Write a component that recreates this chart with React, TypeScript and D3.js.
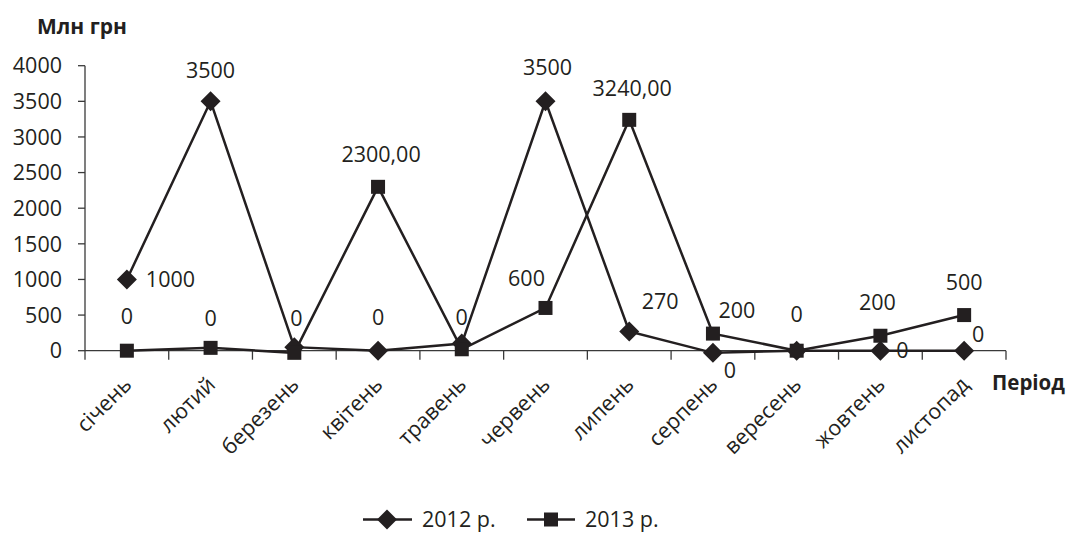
import React from "react";
import * as d3 from "d3";

const categories = ["січень", "лютий", "березень", "квітень", "травень", "червень", "липень", "серпень", "вересень", "жовтень", "листопад"];
const series2012 = [1000, 3500, 50, 0, 100, 3500, 270, -30, 0, 0, 0];
const series2013 = [0, 40, -30, 2300, 20, 600, 3240, 240, 0, 210, 500];
const labels2012 = ["1000", "3500", "0", "0", "0", "3500", "270", "0", "", "0", "0"];
const labels2013 = ["0", "0", "", "2300,00", "", "600", "3240,00", "200", "0", "200", "500"];
const yTicks = [0, 500, 1000, 1500, 2000, 2500, 3000, 3500, 4000];
const seriesNames = ["2012 р.", "2013 р."];

// label placement offsets (layout only)
const off2012: [number, number, string][] = [
  [19, 0, "start"], [0, -31, "middle"], [2, -29, "middle"], [0, -33, "middle"], [0, -26, "middle"],
  [2, -34, "middle"], [31, -30, "middle"], [17, 17, "middle"], [0, 0, "middle"], [22, 0, "middle"], [14, -16, "middle"],
];
const off2013: [number, number, string][] = [
  [0, -34, "middle"], [0, -30, "middle"], [0, 0, "middle"], [3, -33, "middle"], [0, 0, "middle"],
  [-19, -30, "middle"], [3, -32, "middle"], [24, -23, "middle"], [0, -36, "middle"], [-3, -33, "middle"], [0, -33, "middle"],
];

const W = 1071, H = 534;
const X0 = 85, X1 = 1006, Y0 = 350.7, Y1 = 65.7;
const FONT = "'Open Sans', sans-serif";
const INK = "#231f20";
const FS = 21.5;
const LEG_Y = 519.5;

export default function App() {
  const x = d3.scaleBand<string>().domain(categories).range([X0, X1]).padding(0);
  const y = d3.scaleLinear().domain([0, 4000]).range([Y0, Y1]);
  const cx = (c: string) => (x(c) as number) + x.bandwidth() / 2;
  const line = d3.line<number>().x((_, i) => cx(categories[i])).y((v) => y(v));
  const diamond = (r: number) => `M0,${-r}L${r},0L0,${r}L${-r},0Z`;
  const boundaries = [...categories.map((c) => x(c) as number), X1];

  return (
    <div style={{ position: "absolute", left: 0, top: 0 }}>
      <svg width={W} height={H} style={{ display: "block", fontFamily: FONT }}>
        <rect width={W} height={H} fill="#fff" />
        {/* axis titles */}
        <text x={37} y={34} fontSize={21} fontWeight={700} fill={INK}>Млн грн</text>
        <text x={992} y={390} fontSize={20.5} fontWeight={700} fill={INK}>Період</text>

        {/* y axis */}
        <line x1={X0} x2={X0} y1={Y1} y2={Y0} stroke="#3a3a3a" strokeWidth={1.3} />
        {yTicks.map((t) => (
          <g key={t}>
            <line x1={X0 - 7} x2={X0} y1={y(t)} y2={y(t)} stroke="#3a3a3a" strokeWidth={1.3} />
            <text x={62} y={y(t)} dy="0.36em" textAnchor="end" fontSize={FS} fill={INK}>{t}</text>
          </g>
        ))}

        {/* x axis */}
        <line x1={X0} x2={X1} y1={Y0} y2={Y0} stroke="#3a3a3a" strokeWidth={1.3} />
        {boundaries.map((b, i) => (
          <line key={i} x1={b} x2={b} y1={Y0} y2={Y0 + 9} stroke="#3a3a3a" strokeWidth={1.3} />
        ))}
        {categories.map((c) => (
          <text key={c} transform={`translate(${cx(c) + 6},${386}) rotate(-45)`} textAnchor="end" fontSize={FS} fill={INK}>{c}</text>
        ))}

        {/* series lines */}
        <path d={line(series2012) as string} fill="none" stroke={INK} strokeWidth={2.5} strokeLinejoin="miter" />
        {series2012.map((v, i) => (
          <path key={i} d={diamond(10)} transform={`translate(${cx(categories[i])},${y(v)})`} fill={INK} />
        ))}
        <path d={line(series2013) as string} fill="none" stroke={INK} strokeWidth={2.5} />
        {series2013.map((v, i) => (
          <rect key={i} x={cx(categories[i]) - 7} y={y(v) - 7} width={14} height={14} fill={INK} />
        ))}

        {/* data labels */}
        {series2012.map((v, i) => labels2012[i] ? (
          <text key={i} x={cx(categories[i]) + off2012[i][0]} y={y(v) + off2012[i][1]} dy="0.36em" textAnchor={off2012[i][2]} fontSize={FS} fill={INK}>{labels2012[i]}</text>
        ) : null)}
        {series2013.map((v, i) => labels2013[i] ? (
          <text key={i} x={cx(categories[i]) + off2013[i][0]} y={y(v) + off2013[i][1]} dy="0.36em" textAnchor={off2013[i][2]} fontSize={FS} fill={INK}>{labels2013[i]}</text>
        ) : null)}

        {/* legend */}
        <g>
          <line x1={363} x2={412} y1={LEG_Y} y2={LEG_Y} stroke={INK} strokeWidth={2.5} />
          <path d={diamond(10)} transform={`translate(387,${LEG_Y})`} fill={INK} />
          <text x={422} y={LEG_Y} dy="0.36em" fontSize={FS} fill={INK}>{seriesNames[0]}</text>
          <line x1={527} x2={575} y1={LEG_Y} y2={LEG_Y} stroke={INK} strokeWidth={2.5} />
          <rect x={544} y={LEG_Y - 7} width={14} height={14} fill={INK} />
          <text x={585} y={LEG_Y} dy="0.36em" fontSize={FS} fill={INK}>{seriesNames[1]}</text>
        </g>
      </svg>
    </div>
  );
}
